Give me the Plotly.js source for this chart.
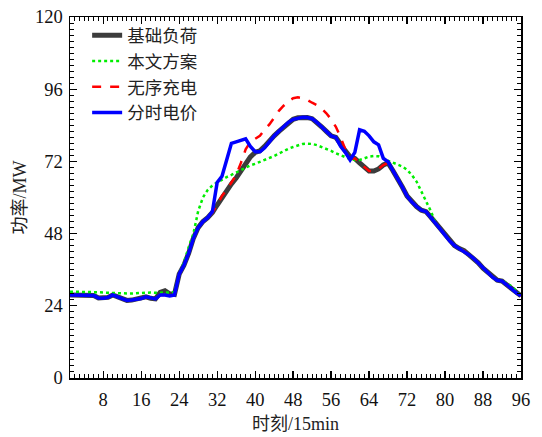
<!DOCTYPE html>
<html>
<head>
<meta charset="utf-8">
<script src="https://cdn.plot.ly/plotly-3.0.1.min.js"></script>
<style>html,body{margin:0;padding:0;background:#fff;}#chart{width:542px;height:437px;}</style>
</head>
<body>
<div id="chart"></div>
<script>
const timeSlots = Array.from({length: 96}, (_, i) => i + 1);

const baseLoad = [
  27.6, 27.6, 27.6, 27.6, 27.5, 27.4, 26.6, 26.5, 26.8, 27.6,
  27.0, 26.3, 25.8, 25.9, 26.2, 26.4, 27.0, 26.5, 26.3, 28.5,
  29.0, 28.0, 27.8, 34.5, 37.5, 41.5, 46.5, 50.0, 52.0, 53.3,
  55.0, 57.5, 60.0, 62.0, 64.5, 66.5, 69.0, 71.0, 73.5, 75.0,
  75.5, 77.0, 79.0, 80.5, 82.0, 83.5, 85.0, 86.0, 86.5, 86.7,
  86.6, 86.2, 85.0, 83.5, 82.0, 80.5, 80.0, 77.5, 75.5, 73.5,
  73.0, 71.5, 70.0, 68.8, 68.8, 69.5, 70.8, 71.5, 69.0, 66.5,
  63.5, 60.5, 58.5, 57.0, 55.8, 55.3, 53.5, 51.5, 49.5, 47.5,
  45.5, 44.0, 43.0, 42.3, 41.0, 39.8, 38.3, 36.5, 35.0, 33.5,
  32.5, 32.2, 31.0, 29.5, 28.3, 27.3
];

const proposed = [
  28.7, 28.7, 28.7, 28.7, 28.7, 28.7, 28.5, 28.4, 28.3, 28.3,
  28.2, 28.1, 28.1, 28.1, 28.2, 28.3, 28.4, 28.4, 28.3, 28.3,
  28.3, 28.3, 28.5, 34.5, 38.5, 43.5, 48.0, 55.5, 60.0, 62.5,
  64.0, 65.0, 66.0, 66.8, 67.5, 68.3, 69.0, 70.0, 70.7, 71.2,
  71.8, 72.4, 73.0, 73.8, 74.6, 75.5, 76.2, 76.8, 77.4, 77.8,
  77.9, 77.8, 77.4, 76.8, 76.2, 75.5, 74.7, 74.0, 73.3, 72.8,
  72.5, 72.5, 73.0, 73.6, 73.8, 73.7, 73.2, 72.2, 71.6, 71.0,
  70.3, 69.2, 67.5, 65.3, 62.0, 58.5, 55.5, 51.5, 49.5, 47.5,
  45.5, 44.0, 43.0, 42.3, 41.0, 39.8, 38.3, 36.5, 35.0, 33.5,
  32.5, 32.2, 31.5, 30.5, 29.0, 27.3
];

const disorderly = [
  27.6, 27.6, 27.6, 27.6, 27.5, 27.4, 26.6, 26.5, 26.8, 27.6,
  27.0, 26.3, 25.8, 25.9, 26.2, 26.4, 27.0, 26.5, 26.3, 27.6,
  27.6, 27.3, 27.6, 34.5, 37.5, 41.5, 46.5, 50.0, 52.0, 53.3,
  55.0, 57.5, 60.5, 62.5, 65.0, 67.5, 71.5, 76.0, 78.5, 79.5,
  80.5, 82.5, 84.3, 86.5, 88.8, 90.5, 92.0, 93.0, 93.3, 93.0,
  92.4, 91.5, 90.7, 89.5, 88.0, 86.0, 83.5, 80.0, 76.0, 73.0,
  73.0, 71.5, 70.0, 68.8, 68.8, 69.5, 70.8, 71.5, 69.0, 66.5,
  63.5, 60.5, 58.5, 57.0, 55.8, 55.3, 53.5, 51.5, 49.5, 47.5,
  45.5, 44.0, 43.0, 42.3, 41.0, 39.8, 38.3, 36.5, 35.0, 33.5,
  32.5, 32.2, 31.0, 29.5, 28.3, 27.3
];

const touPrice = [
  27.6, 27.6, 27.6, 27.6, 27.5, 27.4, 26.6, 26.5, 26.8, 27.6,
  27.0, 26.3, 25.8, 25.9, 26.2, 26.4, 27.0, 26.5, 26.3, 27.6,
  27.6, 27.3, 27.6, 34.5, 37.5, 41.5, 46.5, 50.0, 52.0, 53.3,
  55.3, 65.0, 67.0, 72.5, 78.0, 78.5, 79.0, 79.5, 77.0, 75.2,
  75.2, 76.5, 78.5, 80.5, 82.0, 83.5, 85.0, 86.0, 86.5, 86.7,
  86.6, 86.2, 85.0, 83.5, 82.0, 80.5, 80.0, 77.0, 75.0, 72.5,
  75.0, 82.5, 82.0, 80.5, 78.5, 77.5, 73.0, 71.9, 69.0, 66.5,
  63.5, 60.5, 58.5, 57.0, 55.8, 55.3, 53.5, 51.5, 49.5, 47.5,
  45.5, 44.0, 43.0, 42.3, 41.0, 39.8, 38.3, 36.5, 35.0, 33.5,
  32.5, 32.2, 31.0, 29.5, 28.3, 27.3
];

const seriesNames = ['基础负荷', '本文方案', '无序充电', '分时电价'];
const xTickVals = [8, 16, 24, 32, 40, 48, 56, 64, 72, 80, 88, 96];
const yTickVals = [0, 24, 48, 72, 96, 120];

const traces = [
  {x: timeSlots, y: baseLoad, name: seriesNames[0], mode: 'lines',
   line: {color: '#3c3c3c', width: 5}},
  {x: timeSlots, y: proposed, name: seriesNames[1], mode: 'lines',
   line: {color: '#00ee00', width: 2.5, dash: 'dot'}},
  {x: timeSlots, y: disorderly, name: seriesNames[2], mode: 'lines',
   line: {color: '#ff0000', width: 2.5, dash: 'dash'}},
  {x: timeSlots, y: touPrice, name: seriesNames[3], mode: 'lines',
   line: {color: '#0000ff', width: 3.5}}
];

const tickFont = {family: 'Liberation Serif, Times New Roman, serif', size: 18.5, color: '#111'};
const cjkFont = {family: 'Liberation Serif, Noto Sans CJK SC, serif', size: 18, color: '#222'};

const layout = {
  width: 542, height: 437,
  margin: {l: 70, r: 21, t: 17, b: 59},
  paper_bgcolor: '#fff', plot_bgcolor: '#fff',
  showlegend: true,
  legend: {x: 0.038, y: 0.999, xanchor: 'left', yanchor: 'top',
           bgcolor: 'rgba(0,0,0,0)', borderwidth: 0,
           font: {family: 'Noto Sans CJK SC', size: 17.5, color: '#222'},
           tracegroupgap: 0},
  xaxis: {
    range: [1, 96], tickvals: xTickVals, ticktext: xTickVals.map(String),
    ticks: 'inside', ticklen: 7, tickwidth: 1.3, tickcolor: '#000',
    minor: {dtick: 1, tick0: 0, ticks: 'inside', ticklen: 4, tickcolor: '#000', tickwidth: 1},
    showline: true, linecolor: '#000', linewidth: 1.5, mirror: 'allticks',
    showgrid: false, zeroline: false, tickfont: tickFont, ticklabelstandoff: 4,
    title: {text: '时刻/15min', font: cjkFont, standoff: 8}
  },
  yaxis: {
    range: [0, 120], tickvals: yTickVals, ticktext: yTickVals.map(String),
    ticks: 'inside', ticklen: 7, tickwidth: 1.3, tickcolor: '#000',
    minor: {dtick: 2, tick0: 0, ticks: 'inside', ticklen: 4, tickcolor: '#000', tickwidth: 1},
    showline: true, linecolor: '#000', linewidth: 1.5, mirror: 'allticks',
    showgrid: false, zeroline: false, tickfont: tickFont, ticklabelstandoff: 2,
    title: {text: '功率/MW', font: cjkFont, standoff: 3}
  }
};

Plotly.newPlot('chart', traces, layout, {displayModeBar: false, staticPlot: true});
</script>
</body>
</html>
